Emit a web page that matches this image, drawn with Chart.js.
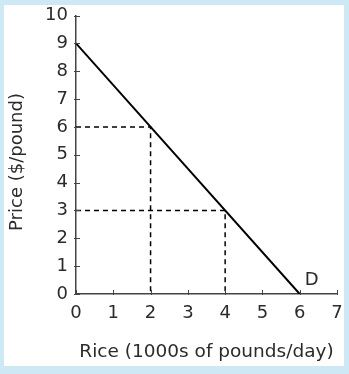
<!DOCTYPE html>
<html>
<head>
<meta charset="utf-8">
<script src="https://cdn.jsdelivr.net/npm/chart.js@4/dist/chart.umd.min.js"></script>
<style>
  html, body { margin: 0; padding: 0; background: #fff; }
  #wrap { width: 349px; height: 374px; }
</style>
</head>
<body>
<div id="wrap"><canvas id="chart" width="349" height="374"></canvas></div>
<script>
// demand curve end points
const demandX = [0, 6];
const demandY = [9, 0];
// guide lines (price -> quantity)
const guideA = { x: [0, 2, 2], y: [6, 6, 0] };
const guideB = { x: [0, 4, 4], y: [3, 3, 0] };
const curveLabel = { text: "D", x: 6.32, y: 0.5 };
const xTicks = [0, 1, 2, 3, 4, 5, 6, 7];
const yTicks = [0, 1, 2, 3, 4, 5, 6, 7, 8, 9, 10];
const xTitle = "Rice (1000s of pounds/day)";
const yTitle = "Price ($/pound)";

const FONT = "'DejaVu Sans', sans-serif";
const TEXT = "#2b2b2b";

function toPoints(xs, ys) {
  return xs.map((x, i) => ({ x: x, y: ys[i] }));
}

const frame = {
  id: "frame",
  beforeDraw(chart) {
    const ctx = chart.ctx;
    ctx.save();
    ctx.fillStyle = "#cfe8f5";
    ctx.fillRect(0, 0, chart.width, chart.height);
    ctx.fillStyle = "#ffffff";
    ctx.fillRect(4, 5, chart.width - 9, chart.height - 13);
    ctx.restore();
  },
};

// small ticks crossing the axes, the curve label and the y title
const extras = {
  id: "extras",
  afterDraw(chart) {
    const ctx = chart.ctx;
    const xs = chart.scales.x, ys = chart.scales.y;
    const area = chart.chartArea;
    ctx.save();
    ctx.strokeStyle = "#444";
    ctx.lineWidth = 1;
    for (const v of xTicks) {
      const px = Math.round(xs.getPixelForValue(v)) + 0.5;
      ctx.beginPath();
      ctx.moveTo(px, area.bottom - 4);
      ctx.lineTo(px, area.bottom + 1);
      ctx.stroke();
    }
    for (const v of yTicks) {
      const py = Math.round(ys.getPixelForValue(v)) + 0.5;
      ctx.beginPath();
      ctx.moveTo(area.left - 2, py);
      ctx.lineTo(area.left + 4, py);
      ctx.stroke();
    }
    ctx.fillStyle = TEXT;
    ctx.textAlign = "center";
    ctx.textBaseline = "middle";
    ctx.font = "18px " + FONT;
    ctx.fillText(curveLabel.text, xs.getPixelForValue(curveLabel.x), ys.getPixelForValue(curveLabel.y));
    ctx.translate(17, 162);
    ctx.rotate(-Math.PI / 2);
    ctx.fillText(yTitle, 0, 0);
    ctx.restore();
  },
};

const dashed = {
  borderColor: "#000",
  borderWidth: 1.5,
  borderDash: [5, 4],
  pointRadius: 0,
  fill: false,
  tension: 0,
};

new Chart(document.getElementById("chart"), {
  type: "line",
  data: {
    datasets: [
      {
        label: "Demand",
        data: toPoints(demandX, demandY),
        borderColor: "#000",
        borderWidth: 2,
        pointRadius: 0,
        fill: false,
        tension: 0,
      },
      Object.assign({ label: "at 6", data: toPoints(guideA.x, guideA.y) }, dashed),
      Object.assign({ label: "at 3", data: toPoints(guideB.x, guideB.y) }, dashed),
    ],
  },
  options: {
    responsive: false,
    animation: false,
    layout: { padding: { left: 0, top: 15.5, right: 12, bottom: 0 } },
    plugins: {
      legend: { display: false },
      tooltip: { enabled: false },
    },
    scales: {
      x: {
        type: "linear",
        min: 0,
        max: 7,
        afterFit: (s) => { s.height = 80; s.paddingLeft = 0; s.paddingRight = 0; },
        afterBuildTicks: (s) => { s.ticks = xTicks.map((v) => ({ value: v })); },
        ticks: { color: TEXT, font: { family: FONT, size: 18 }, padding: 9, maxRotation: 0 },
        grid: { drawOnChartArea: false, drawTicks: false },
        border: { color: "#444", width: 1.5 },
        title: {
          display: true,
          text: xTitle,
          color: TEXT,
          font: { family: FONT, size: 18.5 },
          padding: { top: 4, bottom: 11 },
        },
      },
      y: {
        type: "linear",
        min: 0,
        max: 10,
        afterFit: (s) => { s.width = 76; s.paddingTop = 0; s.paddingBottom = 0; },
        afterBuildTicks: (s) => { s.ticks = yTicks.map((v) => ({ value: v })); },
        ticks: { color: TEXT, font: { family: FONT, size: 18 }, padding: 8 },
        grid: { drawOnChartArea: false, drawTicks: false },
        border: { color: "#444", width: 1.5 },
      },
    },
  },
  plugins: [frame, extras],
});
</script>
</body>
</html>
